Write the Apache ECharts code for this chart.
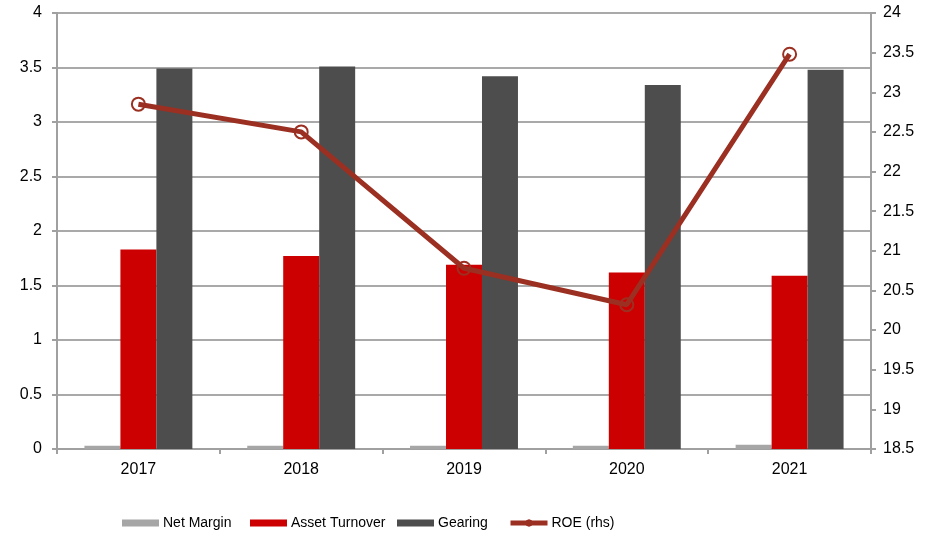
<!DOCTYPE html>
<html>
<head>
<meta charset="utf-8">
<script src="https://cdn.jsdelivr.net/npm/echarts@6/dist/echarts.min.js"></script>
<style>
  html, body { margin: 0; padding: 0; background: #fff; }
  #chart { width: 937px; height: 536px; }
</style>
</head>
<body>
<div id="chart"></div>
<script>
const years = ['2017', '2018', '2019', '2020', '2021'];
const netMargin = [0.03, 0.03, 0.03, 0.03, 0.04];
const assetTurnover = [1.83, 1.77, 1.69, 1.62, 1.59];
const gearing = [3.49, 3.51, 3.42, 3.34, 3.48];
const roe = [22.85, 22.5, 20.78, 20.32, 23.48];

const FONT = '"Liberation Sans", Arial, sans-serif';
const AXIS_GREY = '#a0a0a0';
const ROE_RED = '#9b3022';

const chart = echarts.init(document.getElementById('chart'));

// one legend per item so each sits where the original has it
const legendSlots = [
  ['Net Margin', 122],
  ['Asset Turnover', 250],
  ['Gearing', 397],
  ['ROE (rhs)', 508]
];
const legends = legendSlots.map(([name, x]) => {
  const lg = {
    data: [{ name: name, icon: 'rect' }],
    left: x,
    top: 516,
    padding: 0,
    itemWidth: 37,
    itemHeight: 7,
    textStyle: { fontSize: 14, color: '#000', fontFamily: FONT, padding: [0, 0, 0, -1] }
  };
  if (name === 'ROE (rhs)') {
    lg.data = [{ name: name }];
    lg.itemHeight = 8;
    lg.lineStyle = { width: 5, color: ROE_RED };
    lg.itemStyle = { color: ROE_RED, borderColor: ROE_RED, borderWidth: 1 };
  }
  return lg;
});

chart.setOption({
  backgroundColor: '#fff',
  animation: false,
  textStyle: { fontFamily: FONT },
  grid: { left: 57, right: 66, top: 13, bottom: 87 },
  legend: legends,
  xAxis: {
    type: 'category',
    data: years,
    axisLine: { lineStyle: { color: AXIS_GREY, width: 2 } },
    axisTick: { show: true, length: 5, lineStyle: { color: AXIS_GREY, width: 2 } },
    axisLabel: { color: '#000', fontSize: 16, margin: 13, fontFamily: FONT }
  },
  yAxis: [
    {
      type: 'value',
      min: 0,
      max: 4,
      interval: 0.5,
      axisLine: { show: true, lineStyle: { color: AXIS_GREY, width: 2 } },
      axisTick: { show: true, length: 5, lineStyle: { color: AXIS_GREY, width: 2 } },
      axisLabel: { color: '#000', fontSize: 16, margin: 15, fontFamily: FONT },
      splitLine: { lineStyle: { color: '#8c8c8c', width: 1.5 } }
    },
    {
      type: 'value',
      min: 18.5,
      max: 24,
      interval: 0.5,
      position: 'right',
      axisLine: { show: true, lineStyle: { color: AXIS_GREY, width: 2 } },
      axisTick: { show: true, length: 5, lineStyle: { color: AXIS_GREY, width: 2 } },
      axisLabel: { color: '#000', fontSize: 16, margin: 12, fontFamily: FONT },
      splitLine: { show: false }
    }
  ],
  series: [
    {
      name: 'Net Margin',
      type: 'bar',
      data: netMargin,
      barGap: '0%',
      barCategoryGap: '33.7%',
      itemStyle: { color: '#a6a6a6' }
    },
    {
      name: 'Asset Turnover',
      type: 'bar',
      data: assetTurnover,
      itemStyle: { color: '#cc0000' }
    },
    {
      name: 'Gearing',
      type: 'bar',
      data: gearing,
      itemStyle: { color: '#4d4d4d' }
    },
    {
      name: 'ROE (rhs)',
      type: 'line',
      yAxisIndex: 1,
      data: roe,
      symbol: 'circle',
      symbolSize: 13,
      lineStyle: { color: ROE_RED, width: 5 },
      itemStyle: { color: 'rgba(255,255,255,0)', borderColor: ROE_RED, borderWidth: 2 },
      z: 5
    }
  ]
});
</script>
</body>
</html>
